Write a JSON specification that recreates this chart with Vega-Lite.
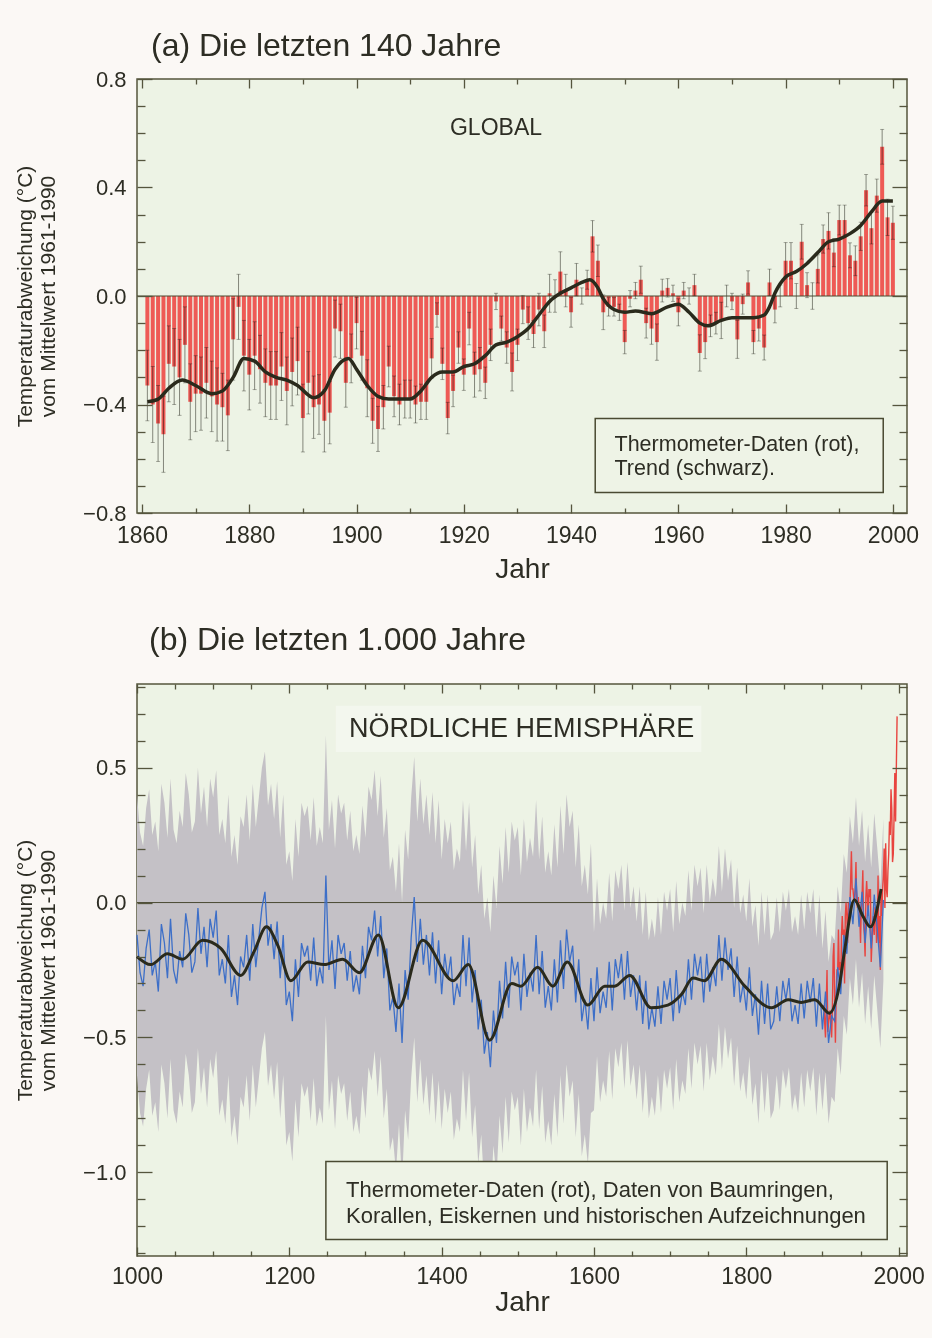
{
"$schema": "https://vega.github.io/schema/vega-lite/v6.json",
"background": "#fbf8f5",
"padding": {"left": 13, "top": 29, "right": 26, "bottom": 26},
"spacing": 39,
"config": {
  "font": "Liberation Sans",
  "view": {"stroke": "#55553d", "strokeWidth": 1.5, "fill": "#edf3e5"},
  "axis": {"labelColor": "#2d2d24", "titleColor": "#2d2d24", "labelFont": "Liberation Sans", "titleFont": "Liberation Sans", "titleFontWeight": "normal", "tickColor": "#55553d", "grid": false, "domain": false},
  "text": {"font": "Liberation Sans", "color": "#2d2d24"}
},
"datasets": {
  "glob": [
    {"t":1861,"v":-0.33,"e":0.13},{"t":1862,"v":-0.40,"e":0.14},{"t":1863,"v":-0.47,"e":0.14},{"t":1864,"v":-0.51,"e":0.14},{"t":1865,"v":-0.25,"e":0.14},{"t":1866,"v":-0.26,"e":0.14},{"t":1867,"v":-0.30,"e":0.14},{"t":1868,"v":-0.18,"e":0.14},{"t":1869,"v":-0.39,"e":0.14},{"t":1870,"v":-0.36,"e":0.14},
    {"t":1871,"v":-0.36,"e":0.135},{"t":1872,"v":-0.32,"e":0.13},{"t":1873,"v":-0.37,"e":0.13},{"t":1874,"v":-0.40,"e":0.135},{"t":1875,"v":-0.41,"e":0.125},{"t":1876,"v":-0.44,"e":0.13},{"t":1877,"v":-0.16,"e":0.15},{"t":1878,"v":-0.04,"e":0.12},{"t":1879,"v":-0.22,"e":0.13},{"t":1880,"v":-0.29,"e":0.13},
    {"t":1881,"v":-0.22,"e":0.125},{"t":1882,"v":-0.27,"e":0.125},{"t":1883,"v":-0.32,"e":0.125},{"t":1884,"v":-0.33,"e":0.125},{"t":1885,"v":-0.33,"e":0.125},{"t":1886,"v":-0.26,"e":0.125},{"t":1887,"v":-0.35,"e":0.125},{"t":1888,"v":-0.28,"e":0.125},{"t":1889,"v":-0.24,"e":0.125},{"t":1890,"v":-0.45,"e":0.125},
    {"t":1891,"v":-0.32,"e":0.115},{"t":1892,"v":-0.41,"e":0.115},{"t":1893,"v":-0.40,"e":0.11},{"t":1894,"v":-0.46,"e":0.115},{"t":1895,"v":-0.43,"e":0.115},{"t":1896,"v":-0.12,"e":0.105},{"t":1897,"v":-0.13,"e":0.1},{"t":1898,"v":-0.32,"e":0.09},{"t":1899,"v":-0.23,"e":0.09},{"t":1900,"v":-0.10,"e":0.095},
    {"t":1901,"v":-0.22,"e":0.09},{"t":1902,"v":-0.34,"e":0.105},{"t":1903,"v":-0.46,"e":0.083},{"t":1904,"v":-0.49,"e":0.083},{"t":1905,"v":-0.41,"e":0.08},{"t":1906,"v":-0.26,"e":0.075},{"t":1907,"v":-0.37,"e":0.075},{"t":1908,"v":-0.40,"e":0.075},{"t":1909,"v":-0.38,"e":0.07},{"t":1910,"v":-0.38,"e":0.07},
    {"t":1911,"v":-0.40,"e":0.068},{"t":1912,"v":-0.39,"e":0.065},{"t":1913,"v":-0.39,"e":0.065},{"t":1914,"v":-0.23,"e":0.073},{"t":1915,"v":-0.07,"e":0.045},{"t":1916,"v":-0.25,"e":0.058},{"t":1917,"v":-0.45,"e":0.058},{"t":1918,"v":-0.35,"e":0.058},{"t":1919,"v":-0.19,"e":0.058},{"t":1920,"v":-0.29,"e":0.058},
    {"t":1921,"v":-0.12,"e":0.06},{"t":1922,"v":-0.29,"e":0.083},{"t":1923,"v":-0.27,"e":0.08},{"t":1924,"v":-0.32,"e":0.058},{"t":1925,"v":-0.18,"e":0.058},{"t":1926,"v":-0.02,"e":0.03},{"t":1927,"v":-0.12,"e":0.046},{"t":1928,"v":-0.19,"e":0.058},{"t":1929,"v":-0.28,"e":0.07},{"t":1930,"v":-0.18,"e":0.058},
    {"t":1931,"v":-0.05,"e":0.052},{"t":1932,"v":-0.10,"e":0.06},{"t":1933,"v":-0.14,"e":0.05},{"t":1934,"v":-0.05,"e":0.06},{"t":1935,"v":-0.13,"e":0.06},{"t":1936,"v":0.01,"e":0.07},{"t":1937,"v":0.00,"e":0.06},{"t":1938,"v":0.09,"e":0.073},{"t":1939,"v":0.02,"e":0.06},{"t":1940,"v":-0.06,"e":0.055},
    {"t":1941,"v":0.06,"e":0.06},{"t":1942,"v":0.00,"e":0.03},{"t":1943,"v":0.06,"e":0.035},{"t":1944,"v":0.22,"e":0.058},{"t":1945,"v":0.13,"e":0.058},{"t":1946,"v":-0.06,"e":0.064},{"t":1947,"v":-0.04,"e":0.034},{"t":1948,"v":-0.04,"e":0.034},{"t":1949,"v":-0.06,"e":0.03},{"t":1950,"v":-0.17,"e":0.043},
    {"t":1951,"v":-0.01,"e":0.03},{"t":1952,"v":0.02,"e":0.03},{"t":1953,"v":0.06,"e":0.05},{"t":1954,"v":-0.10,"e":0.055},{"t":1955,"v":-0.12,"e":0.058},{"t":1956,"v":-0.17,"e":0.067},{"t":1957,"v":0.02,"e":0.042},{"t":1958,"v":0.03,"e":0.034},{"t":1959,"v":0.01,"e":0.03},{"t":1960,"v":-0.06,"e":0.05},
    {"t":1961,"v":0.02,"e":0.03},{"t":1962,"v":0.00,"e":0.03},{"t":1963,"v":0.04,"e":0.04},{"t":1964,"v":-0.21,"e":0.067},{"t":1965,"v":-0.17,"e":0.061},{"t":1966,"v":-0.11,"e":0.04},{"t":1967,"v":-0.10,"e":0.04},{"t":1968,"v":-0.09,"e":0.067},{"t":1969,"v":0.00,"e":0.04},{"t":1970,"v":-0.02,"e":0.03},
    {"t":1971,"v":-0.16,"e":0.07},{"t":1972,"v":-0.03,"e":0.037},{"t":1973,"v":0.05,"e":0.043},{"t":1974,"v":-0.17,"e":0.043},{"t":1975,"v":-0.12,"e":0.046},{"t":1976,"v":-0.19,"e":0.046},{"t":1977,"v":0.05,"e":0.049},{"t":1978,"v":-0.05,"e":0.049},{"t":1979,"v":0.00,"e":0.04},{"t":1980,"v":0.13,"e":0.067},
    {"t":1981,"v":0.13,"e":0.067},{"t":1982,"v":0.00,"e":0.046},{"t":1983,"v":0.20,"e":0.064},{"t":1984,"v":0.04,"e":0.046},{"t":1985,"v":0.00,"e":0.049},{"t":1986,"v":0.10,"e":0.052},{"t":1987,"v":0.21,"e":0.052},{"t":1988,"v":0.24,"e":0.067},{"t":1989,"v":0.16,"e":0.052},{"t":1990,"v":0.28,"e":0.055},
    {"t":1991,"v":0.28,"e":0.055},{"t":1992,"v":0.15,"e":0.046},{"t":1993,"v":0.13,"e":0.055},{"t":1994,"v":0.22,"e":0.052},{"t":1995,"v":0.39,"e":0.058},{"t":1996,"v":0.25,"e":0.058},{"t":1997,"v":0.37,"e":0.061},{"t":1998,"v":0.55,"e":0.064},{"t":1999,"v":0.29,"e":0.067},{"t":2000,"v":0.27,"e":0.061}
  ],
  "trendA": [
    {"t":1861,"v":-0.39},{"t":1863,"v":-0.38},{"t":1865,"v":-0.34},{"t":1867.5,"v":-0.31},{"t":1870,"v":-0.33},{"t":1873,"v":-0.36},{"t":1875,"v":-0.35},{"t":1877,"v":-0.30},{"t":1879,"v":-0.23},{"t":1881,"v":-0.24},{"t":1883,"v":-0.28},{"t":1885,"v":-0.30},{"t":1887,"v":-0.31},{"t":1889,"v":-0.33},{"t":1892,"v":-0.375},{"t":1894,"v":-0.35},{"t":1896,"v":-0.27},{"t":1898.5,"v":-0.23},{"t":1900,"v":-0.27},{"t":1902,"v":-0.33},{"t":1904,"v":-0.37},{"t":1906,"v":-0.38},{"t":1908,"v":-0.38},{"t":1910,"v":-0.38},{"t":1912,"v":-0.35},{"t":1914,"v":-0.30},{"t":1916,"v":-0.28},{"t":1918,"v":-0.28},{"t":1920,"v":-0.26},{"t":1922,"v":-0.25},{"t":1924,"v":-0.22},{"t":1926,"v":-0.18},{"t":1928,"v":-0.17},{"t":1930,"v":-0.15},{"t":1932,"v":-0.12},{"t":1934,"v":-0.07},{"t":1936,"v":-0.02},{"t":1938,"v":0.01},{"t":1940,"v":0.03},{"t":1942,"v":0.05},{"t":1943.5,"v":0.06},{"t":1945,"v":0.03},{"t":1946,"v":-0.01},{"t":1948,"v":-0.05},{"t":1950,"v":-0.06},{"t":1952,"v":-0.055},{"t":1955,"v":-0.065},{"t":1958,"v":-0.04},{"t":1960,"v":-0.03},{"t":1962,"v":-0.06},{"t":1964,"v":-0.10},{"t":1965.5,"v":-0.11},{"t":1968,"v":-0.09},{"t":1970,"v":-0.08},{"t":1972,"v":-0.08},{"t":1974,"v":-0.08},{"t":1976,"v":-0.07},{"t":1977,"v":-0.04},{"t":1978,"v":0.01},{"t":1980,"v":0.07},{"t":1982,"v":0.09},{"t":1984,"v":0.12},{"t":1986,"v":0.16},{"t":1988,"v":0.20},{"t":1990,"v":0.21},{"t":1992,"v":0.23},{"t":1994,"v":0.26},{"t":1996,"v":0.31},{"t":1998,"v":0.35},{"t":2000,"v":0.35}
  ],
  "nh": [
    {"t":1000,"v":-0.12,"w":0.52},{"t":1004,"v":-0.26,"w":0.52},{"t":1008,"v":-0.31,"w":0.52},{"t":1012,"v":-0.17,"w":0.52},{"t":1016,"v":-0.10,"w":0.52},{"t":1020,"v":-0.27,"w":0.52},{"t":1024,"v":-0.22,"w":0.52},{"t":1028,"v":-0.33,"w":0.52},{"t":1032,"v":-0.08,"w":0.52},{"t":1036,"v":-0.15,"w":0.52},
    {"t":1040,"v":-0.28,"w":0.52},{"t":1044,"v":-0.06,"w":0.52},{"t":1048,"v":-0.25,"w":0.52},{"t":1052,"v":-0.30,"w":0.52},{"t":1056,"v":-0.18,"w":0.52},{"t":1060,"v":-0.24,"w":0.52},{"t":1064,"v":-0.04,"w":0.52},{"t":1068,"v":-0.12,"w":0.52},{"t":1072,"v":-0.26,"w":0.52},{"t":1076,"v":-0.22,"w":0.52},
    {"t":1080,"v":-0.02,"w":0.52},{"t":1084,"v":-0.19,"w":0.52},{"t":1088,"v":-0.09,"w":0.52},{"t":1092,"v":-0.24,"w":0.52},{"t":1096,"v":-0.06,"w":0.52},{"t":1100,"v":-0.13,"w":0.52},{"t":1104,"v":-0.03,"w":0.52},{"t":1108,"v":-0.27,"w":0.52},{"t":1112,"v":-0.21,"w":0.52},{"t":1116,"v":-0.30,"w":0.52},
    {"t":1120,"v":-0.12,"w":0.52},{"t":1124,"v":-0.35,"w":0.52},{"t":1128,"v":-0.27,"w":0.52},{"t":1132,"v":-0.38,"w":0.52},{"t":1136,"v":-0.20,"w":0.52},{"t":1140,"v":-0.24,"w":0.52},{"t":1144,"v":-0.12,"w":0.52},{"t":1148,"v":-0.29,"w":0.52},{"t":1152,"v":-0.08,"w":0.52},{"t":1156,"v":-0.24,"w":0.52},
    {"t":1160,"v":-0.13,"w":0.52},{"t":1164,"v":-0.02,"w":0.52},{"t":1168,"v":0.04,"w":0.52},{"t":1172,"v":-0.16,"w":0.52},{"t":1176,"v":-0.08,"w":0.52},{"t":1180,"v":-0.21,"w":0.52},{"t":1184,"v":-0.07,"w":0.52},{"t":1188,"v":-0.28,"w":0.52},{"t":1192,"v":-0.12,"w":0.52},{"t":1196,"v":-0.38,"w":0.52},
    {"t":1200,"v":-0.33,"w":0.52},{"t":1204,"v":-0.44,"w":0.52},{"t":1208,"v":-0.21,"w":0.52},{"t":1212,"v":-0.35,"w":0.52},{"t":1216,"v":-0.15,"w":0.52},{"t":1220,"v":-0.20,"w":0.52},{"t":1224,"v":-0.16,"w":0.52},{"t":1228,"v":-0.29,"w":0.52},{"t":1232,"v":-0.13,"w":0.52},{"t":1236,"v":-0.31,"w":0.52},
    {"t":1240,"v":-0.24,"w":0.52},{"t":1244,"v":-0.30,"w":0.52},{"t":1248,"v":0.10,"w":0.52},{"t":1252,"v":-0.25,"w":0.52},{"t":1256,"v":-0.14,"w":0.52},{"t":1260,"v":-0.32,"w":0.52},{"t":1264,"v":-0.12,"w":0.52},{"t":1268,"v":-0.19,"w":0.52},{"t":1272,"v":-0.15,"w":0.52},{"t":1276,"v":-0.29,"w":0.52},
    {"t":1280,"v":-0.18,"w":0.52},{"t":1284,"v":-0.33,"w":0.52},{"t":1288,"v":-0.27,"w":0.52},{"t":1292,"v":-0.34,"w":0.52},{"t":1296,"v":-0.16,"w":0.52},{"t":1300,"v":-0.28,"w":0.52},{"t":1304,"v":-0.09,"w":0.52},{"t":1308,"v":-0.14,"w":0.52},{"t":1312,"v":-0.03,"w":0.52},{"t":1316,"v":-0.20,"w":0.52},
    {"t":1320,"v":-0.05,"w":0.52},{"t":1324,"v":-0.28,"w":0.52},{"t":1328,"v":-0.17,"w":0.52},{"t":1332,"v":-0.40,"w":0.52},{"t":1336,"v":-0.35,"w":0.52},{"t":1340,"v":-0.48,"w":0.52},{"t":1344,"v":-0.30,"w":0.52},{"t":1348,"v":-0.52,"w":0.52},{"t":1352,"v":-0.25,"w":0.52},{"t":1356,"v":-0.36,"w":0.52},
    {"t":1360,"v":-0.13,"w":0.52},{"t":1364,"v":0.02,"w":0.52},{"t":1368,"v":-0.22,"w":0.52},{"t":1372,"v":-0.06,"w":0.52},{"t":1376,"v":-0.23,"w":0.52},{"t":1380,"v":-0.12,"w":0.52},{"t":1384,"v":-0.27,"w":0.52},{"t":1388,"v":-0.11,"w":0.52},{"t":1392,"v":-0.30,"w":0.52},{"t":1396,"v":-0.14,"w":0.52},
    {"t":1400,"v":-0.34,"w":0.5},{"t":1404,"v":-0.19,"w":0.5},{"t":1408,"v":-0.28,"w":0.5},{"t":1412,"v":-0.20,"w":0.5},{"t":1416,"v":-0.38,"w":0.5},{"t":1420,"v":-0.30,"w":0.5},{"t":1424,"v":-0.35,"w":0.5},{"t":1428,"v":-0.12,"w":0.5},{"t":1432,"v":-0.31,"w":0.5},{"t":1436,"v":-0.13,"w":0.5},
    {"t":1440,"v":-0.37,"w":0.5},{"t":1444,"v":-0.25,"w":0.5},{"t":1448,"v":-0.47,"w":0.5},{"t":1452,"v":-0.36,"w":0.5},{"t":1456,"v":-0.56,"w":0.5},{"t":1460,"v":-0.48,"w":0.5},{"t":1464,"v":-0.61,"w":0.5},{"t":1468,"v":-0.40,"w":0.5},{"t":1472,"v":-0.52,"w":0.5},{"t":1476,"v":-0.29,"w":0.5},
    {"t":1480,"v":-0.43,"w":0.5},{"t":1484,"v":-0.22,"w":0.5},{"t":1488,"v":-0.39,"w":0.5},{"t":1492,"v":-0.20,"w":0.5},{"t":1496,"v":-0.27,"w":0.5},{"t":1500,"v":-0.22,"w":0.5},{"t":1504,"v":-0.40,"w":0.5},{"t":1508,"v":-0.19,"w":0.5},{"t":1512,"v":-0.35,"w":0.5},{"t":1516,"v":-0.26,"w":0.5},
    {"t":1520,"v":-0.33,"w":0.5},{"t":1524,"v":-0.12,"w":0.5},{"t":1528,"v":-0.34,"w":0.5},{"t":1532,"v":-0.18,"w":0.5},{"t":1536,"v":-0.39,"w":0.5},{"t":1540,"v":-0.31,"w":0.5},{"t":1544,"v":-0.40,"w":0.5},{"t":1548,"v":-0.21,"w":0.5},{"t":1552,"v":-0.37,"w":0.5},{"t":1556,"v":-0.14,"w":0.5},
    {"t":1560,"v":-0.32,"w":0.5},{"t":1564,"v":-0.10,"w":0.5},{"t":1568,"v":-0.22,"w":0.5},{"t":1572,"v":-0.16,"w":0.5},{"t":1576,"v":-0.37,"w":0.5},{"t":1580,"v":-0.21,"w":0.5},{"t":1584,"v":-0.44,"w":0.5},{"t":1588,"v":-0.36,"w":0.5},{"t":1592,"v":-0.47,"w":0.5},{"t":1596,"v":-0.28,"w":0.5},
    {"t":1600,"v":-0.44,"w":0.33},{"t":1604,"v":-0.24,"w":0.33},{"t":1608,"v":-0.41,"w":0.33},{"t":1612,"v":-0.33,"w":0.33},{"t":1616,"v":-0.39,"w":0.33},{"t":1620,"v":-0.22,"w":0.33},{"t":1624,"v":-0.40,"w":0.33},{"t":1628,"v":-0.21,"w":0.33},{"t":1632,"v":-0.28,"w":0.33},{"t":1636,"v":-0.19,"w":0.33},
    {"t":1640,"v":-0.36,"w":0.33},{"t":1644,"v":-0.18,"w":0.33},{"t":1648,"v":-0.35,"w":0.33},{"t":1652,"v":-0.27,"w":0.33},{"t":1656,"v":-0.40,"w":0.33},{"t":1660,"v":-0.27,"w":0.33},{"t":1664,"v":-0.45,"w":0.33},{"t":1668,"v":-0.29,"w":0.33},{"t":1672,"v":-0.47,"w":0.33},{"t":1676,"v":-0.39,"w":0.33},
    {"t":1680,"v":-0.46,"w":0.33},{"t":1684,"v":-0.31,"w":0.33},{"t":1688,"v":-0.45,"w":0.33},{"t":1692,"v":-0.29,"w":0.33},{"t":1696,"v":-0.36,"w":0.33},{"t":1700,"v":-0.28,"w":0.33},{"t":1704,"v":-0.44,"w":0.33},{"t":1708,"v":-0.25,"w":0.33},{"t":1712,"v":-0.41,"w":0.33},{"t":1716,"v":-0.33,"w":0.33},
    {"t":1720,"v":-0.38,"w":0.33},{"t":1724,"v":-0.21,"w":0.33},{"t":1728,"v":-0.36,"w":0.33},{"t":1732,"v":-0.19,"w":0.33},{"t":1736,"v":-0.27,"w":0.33},{"t":1740,"v":-0.20,"w":0.33},{"t":1744,"v":-0.37,"w":0.33},{"t":1748,"v":-0.19,"w":0.33},{"t":1752,"v":-0.33,"w":0.33},{"t":1756,"v":-0.24,"w":0.33},
    {"t":1760,"v":-0.31,"w":0.33},{"t":1764,"v":-0.12,"w":0.33},{"t":1768,"v":-0.29,"w":0.33},{"t":1772,"v":-0.13,"w":0.33},{"t":1776,"v":-0.25,"w":0.33},{"t":1780,"v":-0.17,"w":0.33},{"t":1784,"v":-0.35,"w":0.33},{"t":1788,"v":-0.20,"w":0.33},{"t":1792,"v":-0.37,"w":0.33},{"t":1796,"v":-0.30,"w":0.33},
    {"t":1800,"v":-0.40,"w":0.33},{"t":1804,"v":-0.24,"w":0.33},{"t":1808,"v":-0.42,"w":0.33},{"t":1812,"v":-0.34,"w":0.33},{"t":1816,"v":-0.49,"w":0.33},{"t":1820,"v":-0.29,"w":0.33},{"t":1824,"v":-0.45,"w":0.33},{"t":1828,"v":-0.30,"w":0.33},{"t":1832,"v":-0.47,"w":0.33},{"t":1836,"v":-0.44,"w":0.33},
    {"t":1840,"v":-0.31,"w":0.33},{"t":1844,"v":-0.44,"w":0.33},{"t":1848,"v":-0.29,"w":0.33},{"t":1852,"v":-0.36,"w":0.33},{"t":1856,"v":-0.28,"w":0.33},{"t":1860,"v":-0.44,"w":0.33},{"t":1864,"v":-0.38,"w":0.33},{"t":1868,"v":-0.45,"w":0.33},{"t":1872,"v":-0.30,"w":0.33},{"t":1876,"v":-0.43,"w":0.33},
    {"t":1880,"v":-0.29,"w":0.33},{"t":1884,"v":-0.37,"w":0.33},{"t":1888,"v":-0.28,"w":0.33},{"t":1892,"v":-0.46,"w":0.33},{"t":1896,"v":-0.30,"w":0.33},{"t":1900,"v":-0.47,"w":0.3},{"t":1904,"v":-0.33,"w":0.3},{"t":1908,"v":-0.52,"w":0.3},{"t":1912,"v":-0.42,"w":0.3},{"t":1916,"v":-0.44,"w":0.3},
    {"t":1920,"v":-0.24,"w":0.3},{"t":1924,"v":-0.34,"w":0.3},{"t":1928,"v":-0.12,"w":0.3},{"t":1932,"v":-0.19,"w":0.3},{"t":1936,"v":0.02,"w":0.3},{"t":1940,"v":-0.08,"w":0.3},{"t":1944,"v":0.09,"w":0.3},{"t":1948,"v":-0.09,"w":0.3},{"t":1952,"v":0.04,"w":0.3},{"t":1956,"v":-0.15,"w":0.3},
    {"t":1960,"v":-0.01,"w":0.3},{"t":1964,"v":-0.17,"w":0.3},{"t":1968,"v":0.03,"w":0.3},{"t":1972,"v":-0.10,"w":0.3},{"t":1976,"v":-0.24,"w":0.3},{"t":1980,"v":0.01,"w":0.3}
  ],
  "thermo": [
    {"t":1902,"v":-0.38},{"t":1903,"v":-0.45},{"t":1904,"v":-0.50},{"t":1905,"v":-0.37},{"t":1906,"v":-0.25},{"t":1907,"v":-0.48},{"t":1908,"v":-0.45},{"t":1909,"v":-0.42},{"t":1910,"v":-0.40},{"t":1911,"v":-0.45},{"t":1912,"v":-0.50},{"t":1913,"v":-0.40},{"t":1914,"v":-0.20},{"t":1915,"v":-0.15},{"t":1916,"v":-0.35},{"t":1917,"v":-0.52},{"t":1918,"v":-0.35},{"t":1919,"v":-0.25},{"t":1920,"v":-0.25},
    {"t":1921,"v":-0.10},{"t":1922,"v":-0.25},{"t":1923,"v":-0.22},{"t":1924,"v":-0.30},{"t":1925,"v":-0.12},{"t":1926,"v":-0.05},{"t":1927,"v":-0.12},{"t":1928,"v":-0.10},{"t":1929,"v":-0.30},{"t":1930,"v":-0.05},{"t":1931,"v":0.00},{"t":1932,"v":-0.05},{"t":1933,"v":-0.15},{"t":1934,"v":0.00},{"t":1935,"v":-0.08},{"t":1936,"v":-0.02},{"t":1937,"v":0.08},{"t":1938,"v":0.19},{"t":1939,"v":0.05},{"t":1940,"v":0.05},
    {"t":1941,"v":0.02},{"t":1942,"v":0.00},{"t":1943,"v":0.05},{"t":1944,"v":0.15},{"t":1945,"v":0.00},{"t":1946,"v":-0.02},{"t":1947,"v":0.02},{"t":1948,"v":-0.02},{"t":1949,"v":-0.05},{"t":1950,"v":-0.15},{"t":1951,"v":-0.02},{"t":1952,"v":0.02},{"t":1953,"v":0.12},{"t":1954,"v":-0.08},{"t":1955,"v":-0.12},{"t":1956,"v":-0.20},{"t":1957,"v":0.02},{"t":1958,"v":0.08},{"t":1959,"v":0.02},{"t":1960,"v":-0.05},
    {"t":1961,"v":0.05},{"t":1962,"v":0.02},{"t":1963,"v":0.05},{"t":1964,"v":-0.22},{"t":1965,"v":-0.15},{"t":1966,"v":-0.10},{"t":1967,"v":-0.05},{"t":1968,"v":-0.12},{"t":1969,"v":-0.02},{"t":1970,"v":-0.02},{"t":1971,"v":-0.15},{"t":1972,"v":-0.12},{"t":1973,"v":0.10},{"t":1974,"v":-0.15},{"t":1975,"v":-0.05},{"t":1976,"v":-0.25},{"t":1977,"v":0.05},{"t":1978,"v":-0.05},{"t":1979,"v":0.05},{"t":1980,"v":0.10},
    {"t":1981,"v":0.20},{"t":1982,"v":-0.02},{"t":1983,"v":0.22},{"t":1984,"v":0.05},{"t":1985,"v":0.02},{"t":1986,"v":0.12},{"t":1987,"v":0.18},{"t":1988,"v":0.30},{"t":1989,"v":0.25},{"t":1990,"v":0.42},{"t":1991,"v":0.35},{"t":1992,"v":0.15},{"t":1993,"v":0.18},{"t":1994,"v":0.32},{"t":1995,"v":0.48},{"t":1996,"v":0.30},{"t":1997,"v":0.50},{"t":1998,"v":0.69}
  ],
  "smooth": [
    {"t":1000,"v":-0.20},{"t":1018,"v":-0.23},{"t":1040,"v":-0.19},{"t":1060,"v":-0.21},{"t":1086,"v":-0.14},{"t":1110,"v":-0.17},{"t":1136,"v":-0.27},{"t":1154,"v":-0.18},{"t":1170,"v":-0.09},{"t":1185,"v":-0.16},{"t":1202,"v":-0.29},{"t":1224,"v":-0.22},{"t":1246,"v":-0.23},{"t":1270,"v":-0.21},{"t":1292,"v":-0.26},{"t":1317,"v":-0.12},{"t":1343,"v":-0.39},{"t":1375,"v":-0.14},{"t":1415,"v":-0.29},{"t":1435,"v":-0.23},{"t":1463,"v":-0.51},{"t":1492,"v":-0.30},{"t":1504,"v":-0.31},{"t":1526,"v":-0.24},{"t":1546,"v":-0.31},{"t":1565,"v":-0.22},{"t":1592,"v":-0.38},{"t":1614,"v":-0.31},{"t":1627,"v":-0.31},{"t":1647,"v":-0.27},{"t":1675,"v":-0.39},{"t":1697,"v":-0.38},{"t":1715,"v":-0.34},{"t":1730,"v":-0.28},{"t":1745,"v":-0.29},{"t":1767,"v":-0.21},{"t":1798,"v":-0.31},{"t":1833,"v":-0.39},{"t":1855,"v":-0.36},{"t":1872,"v":-0.37},{"t":1890,"v":-0.36},{"t":1909,"v":-0.41},{"t":1922,"v":-0.31},{"t":1929,"v":-0.18},{"t":1942,"v":0.01},{"t":1953,"v":-0.05},{"t":1963,"v":-0.09},{"t":1977,"v":0.05}
  ]
},
"vconcat": [
  {
    "width": 770, "height": 434,
    "title": {"text": "(a) Die letzten 140 Jahre", "anchor": "start", "frame": "group", "dx": 14, "offset": -20, "baseline": "alphabetic", "fontSize": 32, "fontWeight": "normal", "color": "#2d2d24", "font": "Liberation Sans"},
    "resolve": {"axis": {"x": "independent", "y": "independent"}},
    "layer": [
      {"data": {"name": "glob"}, "mark": {"type": "bar", "width": 4, "color": "#ee5a55"},
       "encoding": {
         "x": {"field": "t", "type": "quantitative", "scale": {"domain": [1860, 2001.7], "nice": false, "zero": false},
               "axis": {"orient": "bottom", "values": [1860,1880,1900,1920,1940,1960,1980,2000], "format": "d", "ticks": false, "tickSize": 0, "labelPadding": 11, "labelFontSize": 23, "labelFlush": false, "labelOverlap": false, "title": "Jahr", "titleFontSize": 28, "titlePadding": 8}},
         "y": {"field": "v", "type": "quantitative", "scale": {"domain": [-0.8, 0.8], "nice": false},
               "axis": {"orient": "left", "values": [-0.8,-0.4,0,0.4,0.8], "format": ".1f", "ticks": false, "tickSize": 0, "labelPadding": 11, "labelFontSize": 22, "labelOverlap": false, "title": ["Temperaturabweichung (°C)", "vom Mittelwert 1961-1990"], "titleFontSize": 21, "titleLineHeight": 23, "titlePadding": 24}}
       }},
      {"data": {"name": "glob"}, "mark": {"type": "errorbar", "color": "#8d8d88", "ticks": {"size": 4, "blend": "multiply"}, "rule": {"strokeWidth": 1, "blend": "multiply"}},
       "encoding": {
         "x": {"field": "t", "type": "quantitative", "scale": {"domain": [1860, 2001.7], "nice": false, "zero": false}, "axis": null},
         "y": {"field": "v", "type": "quantitative", "scale": {"domain": [-0.8, 0.8], "nice": false}, "axis": null},
         "yError": {"field": "e"}
       }},
      {"data": {"values": [{}]}, "mark": {"type": "rule", "color": "#4a4a32", "strokeWidth": 1},
       "encoding": {"y": {"datum": 0, "type": "quantitative", "scale": {"domain": [-0.8, 0.8], "nice": false}, "axis": null}}},
      {"data": {"name": "trendA"}, "mark": {"type": "line", "interpolate": "monotone", "color": "#2a2a1c", "strokeWidth": 3.5},
       "encoding": {
         "x": {"field": "t", "type": "quantitative", "scale": {"domain": [1860, 2001.7], "nice": false, "zero": false},
               "axis": {"orient": "bottom", "values": [1860,1880,1900,1920,1940,1960,1980,2000], "labels": false, "ticks": true, "tickSize": -9, "tickWidth": 1.3, "title": null, "zindex": 1}},
         "y": {"field": "v", "type": "quantitative", "scale": {"domain": [-0.8, 0.8], "nice": false},
               "axis": {"orient": "left", "values": [-0.8,-0.4,0,0.4,0.8], "labels": false, "ticks": true, "tickSize": -15, "tickWidth": 1.3, "title": null, "zindex": 1}}
       }},
      {"data": {"values": [{"t": 1926, "v": 0.62, "s": "GLOBAL"}]}, "mark": {"type": "text", "fontSize": 23, "align": "center", "baseline": "middle", "color": "#2d2d24"},
       "encoding": {
         "text": {"field": "s"},
         "x": {"field": "t", "type": "quantitative", "scale": {"domain": [1860, 2001.7], "nice": false, "zero": false},
               "axis": {"orient": "bottom", "values": [1870,1890,1910,1930,1950,1970,1990], "labels": false, "ticks": true, "tickSize": -5, "tickWidth": 1.3, "title": null, "zindex": 1}},
         "y": {"field": "v", "type": "quantitative", "scale": {"domain": [-0.8, 0.8], "nice": false},
               "axis": {"orient": "left", "values": [-0.7,-0.6,-0.5,-0.3,-0.2,-0.1,0.1,0.2,0.3,0.5,0.6,0.7], "labels": false, "ticks": true, "tickSize": -8, "tickWidth": 1.3, "title": null, "zindex": 1}}
       }},
      {"data": {"values": [{"t": 1944.5, "t2": 1998.2, "v": -0.452, "v2": -0.724}]}, "mark": {"type": "rect", "fill": "#eef3e6", "stroke": "#4a4a32", "strokeWidth": 1.5},
       "encoding": {
         "x": {"field": "t", "type": "quantitative", "scale": {"domain": [1860, 2001.7], "nice": false, "zero": false},
               "axis": {"orient": "top", "values": [1860,1880,1900,1920,1940,1960,1980,2000], "labels": false, "ticks": true, "tickSize": -9, "tickWidth": 1.3, "title": null, "zindex": 1}},
         "x2": {"field": "t2"},
         "y": {"field": "v", "type": "quantitative", "scale": {"domain": [-0.8, 0.8], "nice": false},
               "axis": {"orient": "right", "values": [-0.8,-0.4,0,0.4,0.8], "labels": false, "ticks": true, "tickSize": -15, "tickWidth": 1.3, "title": null, "zindex": 1}},
         "y2": {"field": "v2"}
       }},
      {"data": {"values": [{"t": 1948.1, "v": -0.551, "s": "Thermometer-Daten (rot),"}, {"t": 1948.1, "v": -0.636, "s": "Trend (schwarz)."}]},
       "mark": {"type": "text", "fontSize": 21.5, "align": "left", "baseline": "middle", "color": "#2d2d24"},
       "encoding": {
         "text": {"field": "s"},
         "x": {"field": "t", "type": "quantitative", "scale": {"domain": [1860, 2001.7], "nice": false, "zero": false},
               "axis": {"orient": "top", "values": [1870,1890,1910,1930,1950,1970,1990], "labels": false, "ticks": true, "tickSize": -5, "tickWidth": 1.3, "title": null, "zindex": 1}},
         "y": {"field": "v", "type": "quantitative", "scale": {"domain": [-0.8, 0.8], "nice": false},
               "axis": {"orient": "right", "values": [-0.7,-0.6,-0.5,-0.3,-0.2,-0.1,0.1,0.2,0.3,0.5,0.6,0.7], "labels": false, "ticks": true, "tickSize": -8, "tickWidth": 1.3, "title": null, "zindex": 1}}
       }}
    ]
  },
  {
    "width": 770, "height": 572,
    "title": {"text": "(b) Die letzten 1.000 Jahre", "anchor": "start", "frame": "group", "dx": 12, "offset": 1, "baseline": "alphabetic", "fontSize": 32, "fontWeight": "normal", "color": "#2d2d24", "font": "Liberation Sans"},
    "resolve": {"axis": {"x": "independent", "y": "independent"}},
    "layer": [
      {"data": {"name": "nh"}, "mark": {"type": "errorband", "band": {"color": "#c4c1c6", "opacity": 1}, "borders": false},
       "encoding": {
         "x": {"field": "t", "type": "quantitative", "scale": {"domain": [1000, 2011], "nice": false, "zero": false}, "axis": null},
         "y": {"field": "v", "type": "quantitative", "scale": {"domain": [-1.31, 0.81], "nice": false}, "axis": null},
         "yError": {"field": "w"}
       }},
      {"data": {"values": [{}]}, "mark": {"type": "rule", "color": "#4a4a32", "strokeWidth": 1},
       "encoding": {"y": {"datum": 0, "type": "quantitative", "scale": {"domain": [-1.31, 0.81], "nice": false}, "axis": null}}},
      {"data": {"name": "thermo"}, "mark": {"type": "line", "color": "#e8443f", "strokeWidth": 1.4},
       "encoding": {
         "x": {"field": "t", "type": "quantitative", "scale": {"domain": [1000, 2011], "nice": false, "zero": false},
               "axis": {"orient": "bottom", "values": [1000,1200,1400,1600,1800,2000], "format": "d", "ticks": false, "tickSize": 0, "labelPadding": 9, "labelFontSize": 23, "labelFlush": false, "labelOverlap": false, "title": "Jahr", "titleFontSize": 28, "titlePadding": 0}},
         "y": {"field": "v", "type": "quantitative", "scale": {"domain": [-1.31, 0.81], "nice": false},
               "axis": {"orient": "left", "values": [-1.0,-0.5,0,0.5], "format": ".1f", "ticks": false, "tickSize": 0, "labelPadding": 11, "labelFontSize": 22, "labelOverlap": false, "title": ["Temperaturabweichung (°C)", "vom Mittelwert 1961-1990"], "titleFontSize": 21, "titleLineHeight": 23, "titlePadding": 24}}
       }},
      {"data": {"name": "nh"}, "mark": {"type": "line", "color": "#3d6fc8", "strokeWidth": 1.3},
       "encoding": {
         "x": {"field": "t", "type": "quantitative", "scale": {"domain": [1000, 2011], "nice": false, "zero": false},
               "axis": {"orient": "bottom", "values": [1000,1200,1400,1600,1800,2000], "labels": false, "ticks": true, "tickSize": -9, "tickWidth": 1.3, "title": null, "zindex": 1}},
         "y": {"field": "v", "type": "quantitative", "scale": {"domain": [-1.31, 0.81], "nice": false},
               "axis": {"orient": "left", "values": [-1.0,-0.5,0,0.5], "labels": false, "ticks": true, "tickSize": -15, "tickWidth": 1.3, "title": null, "zindex": 1}}
       }},
      {"data": {"name": "smooth"}, "mark": {"type": "line", "interpolate": "monotone", "color": "#2a2a1c", "strokeWidth": 3},
       "encoding": {
         "x": {"field": "t", "type": "quantitative", "scale": {"domain": [1000, 2011], "nice": false, "zero": false},
               "axis": {"orient": "bottom", "values": [1050,1100,1150,1250,1300,1350,1450,1500,1550,1650,1700,1750,1850,1900,1950], "labels": false, "ticks": true, "tickSize": -5, "tickWidth": 1.3, "title": null, "zindex": 1}},
         "y": {"field": "v", "type": "quantitative", "scale": {"domain": [-1.31, 0.81], "nice": false},
               "axis": {"orient": "left", "values": [-1.3,-1.2,-1.1,-0.9,-0.8,-0.7,-0.6,-0.4,-0.3,-0.2,-0.1,0.1,0.2,0.3,0.4,0.6,0.7,0.8], "labels": false, "ticks": true, "tickSize": -8, "tickWidth": 1.3, "title": null, "zindex": 1}}
       }},
      {"data": {"values": [{"t": 1261, "t2": 1741, "v": 0.729, "v2": 0.558}]}, "mark": {"type": "rect", "fill": "#f3f7ee"},
       "encoding": {
         "x": {"field": "t", "type": "quantitative", "scale": {"domain": [1000, 2011], "nice": false, "zero": false}, "axis": null},
         "x2": {"field": "t2"},
         "y": {"field": "v", "type": "quantitative", "scale": {"domain": [-1.31, 0.81], "nice": false}, "axis": null},
         "y2": {"field": "v2"}
       }},
      {"data": {"values": [{"t": 1505, "v": 0.643, "s": "NÖRDLICHE HEMISPHÄRE"}]}, "mark": {"type": "text", "fontSize": 27, "align": "center", "baseline": "middle", "color": "#2d2d24"},
       "encoding": {
         "text": {"field": "s"},
         "x": {"field": "t", "type": "quantitative", "scale": {"domain": [1000, 2011], "nice": false, "zero": false},
               "axis": {"orient": "top", "values": [1000,1200,1400,1600,1800,2000], "labels": false, "ticks": true, "tickSize": -9, "tickWidth": 1.3, "title": null, "zindex": 1}},
         "y": {"field": "v", "type": "quantitative", "scale": {"domain": [-1.31, 0.81], "nice": false},
               "axis": {"orient": "right", "values": [-1.0,-0.5,0,0.5], "labels": false, "ticks": true, "tickSize": -15, "tickWidth": 1.3, "title": null, "zindex": 1}}
       }},
      {"data": {"values": [{"t": 1248, "t2": 1985, "v": -0.96, "v2": -1.249}]}, "mark": {"type": "rect", "fill": "#eef3e6", "stroke": "#4a4a32", "strokeWidth": 1.5},
       "encoding": {
         "x": {"field": "t", "type": "quantitative", "scale": {"domain": [1000, 2011], "nice": false, "zero": false},
               "axis": {"orient": "top", "values": [1050,1100,1150,1250,1300,1350,1450,1500,1550,1650,1700,1750,1850,1900,1950], "labels": false, "ticks": true, "tickSize": -5, "tickWidth": 1.3, "title": null, "zindex": 1}},
         "x2": {"field": "t2"},
         "y": {"field": "v", "type": "quantitative", "scale": {"domain": [-1.31, 0.81], "nice": false},
               "axis": {"orient": "right", "values": [-1.3,-1.2,-1.1,-0.9,-0.8,-0.7,-0.6,-0.4,-0.3,-0.2,-0.1,0.1,0.2,0.3,0.4,0.6,0.7,0.8], "labels": false, "ticks": true, "tickSize": -8, "tickWidth": 1.3, "title": null, "zindex": 1}},
         "y2": {"field": "v2"}
       }},
      {"data": {"values": [{"t": 1274.5, "v": -1.065, "s": "Thermometer-Daten (rot), Daten von Baumringen,"}, {"t": 1274.5, "v": -1.161, "s": "Korallen, Eiskernen und historischen Aufzeichnungen"}]},
       "mark": {"type": "text", "fontSize": 22, "align": "left", "baseline": "middle", "color": "#2d2d24"},
       "encoding": {
         "text": {"field": "s"},
         "x": {"field": "t", "type": "quantitative", "scale": {"domain": [1000, 2011], "nice": false, "zero": false}, "axis": null},
         "y": {"field": "v", "type": "quantitative", "scale": {"domain": [-1.31, 0.81], "nice": false}, "axis": null}
       }}
    ]
  }
]
}
